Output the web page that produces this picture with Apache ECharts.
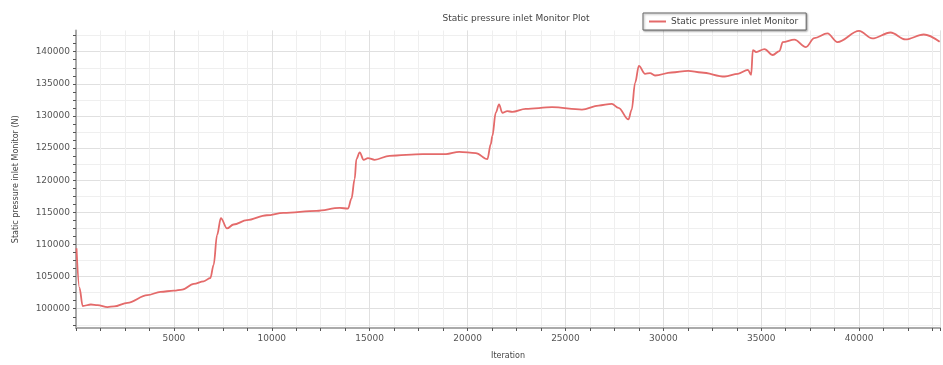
<!DOCTYPE html>
<html>
<head>
<meta charset="utf-8">
<script src="https://cdn.jsdelivr.net/npm/echarts@6/dist/echarts.min.js"></script>
<style>
html,body{margin:0;padding:0;background:#fff;}
#c{width:943px;height:365px;}
</style>
</head>
<body>
<div id="c"></div>
<script>
// Data
var iterations = [25, 178, 341, 763, 1103, 1612, 1947, 2628, 3645, 4321, 4998, 5425, 6014, 6523, 6863, 7031, 7204, 7400, 7712, 8048, 8729, 9746, 10590, 12288, 13473, 13895, 14068, 14235, 14321, 14489, 14693, 14912, 15252, 16015, 17708, 18898, 19573, 20422, 21012, 21185, 21266, 21439, 21607, 21775, 22029, 22283, 22964, 24317, 25842, 26691, 27367, 27708, 28216, 28384, 28557, 28750, 29066, 29320, 29574, 30418, 31262, 31943, 33133, 33809, 34317, 34485, 34571, 34739, 35166, 35588, 35929, 36097, 36692, 37282, 37709, 38384, 38893, 39996, 40672, 41603, 42365, 43301, 44114];
var pressure = [109400, 103240, 100420, 100660, 100570, 100260, 100360, 100920, 102110, 102620, 102820, 102980, 103860, 104270, 104780, 106830, 111460, 114100, 112490, 113110, 113780, 114550, 114920, 115230, 115690, 115580, 117120, 120210, 123290, 124330, 123180, 123450, 123180, 123800, 124060, 124060, 124420, 124220, 123290, 125610, 126890, 130500, 131780, 130500, 130740, 130650, 131110, 131360, 131000, 131620, 131880, 131270, 129460, 131000, 135170, 137790, 136560, 136660, 136300, 136760, 137020, 136760, 136140, 136560, 137170, 136400, 140260, 139950, 140410, 139490, 140100, 141490, 141880, 140720, 142110, 142840, 141490, 143240, 142060, 142990, 141910, 142680, 141540];
var yTickLabels = [100000, 105000, 110000, 115000, 120000, 125000, 130000, 135000, 140000];
var xTickLabels = [5000, 10000, 15000, 20000, 25000, 30000, 35000, 40000];
var seriesName = 'Static pressure inlet Monitor';

var X_MIN = 0, X_MAX = 44130, Y_MIN = 97000, Y_MAX = 143300;
function steps(start, end, step) { var a = []; for (var v = start; v <= end; v += step) a.push(v); return a; }
var yMinorTicks = steps(97500, 143000, 1250);
var yGrid2500 = steps(97500, 143000, 2500);

var font = 'DejaVu Sans';
var chart = echarts.init(document.getElementById('c'));
chart.setOption({
  animation: false,
  textStyle: { fontFamily: font },
  title: {
    text: 'Static pressure inlet Monitor Plot',
    left: 511, top: 9, textAlign: 'center',
    textStyle: { fontFamily: font, fontSize: 9, fontWeight: 'normal', color: '#444' }
  },
  legend: {
    left: 643, top: 13, padding: [4, 8, 4, 6],
    borderColor: '#666', borderWidth: 1, borderRadius: 0,
    backgroundColor: '#fff',
    shadowBlur: 2, shadowColor: 'rgba(0,0,0,0.35)', shadowOffsetX: 1, shadowOffsetY: 1,
    icon: 'rect', itemWidth: 17, itemHeight: 2, itemGap: 4,
    textStyle: { fontFamily: font, fontSize: 9, color: '#444' },
    data: [seriesName]
  },
  grid: { left: 76, right: 0, top: 30.5, bottom: 35, containLabel: false },
  xAxis: [{
    type: 'value', min: X_MIN, max: X_MAX, interval: 1250,
    name: 'Iteration', nameLocation: 'middle', nameGap: 24,
    nameTextStyle: { fontFamily: font, fontSize: 8, color: '#444' },
    axisLine: { lineStyle: { color: '#aaa', width: 2 } },
    axisTick: { length: 3, lineStyle: { color: '#555', width: 1 } },
    axisLabel: {
      margin: 6, fontSize: 9, color: '#555', fontFamily: font,
      formatter: function (v) { return xTickLabels.indexOf(v) >= 0 ? String(v) : ''; }
    },
    splitLine: { show: true, lineStyle: { color: '#efefef', width: 1 } }
  }, {
    type: 'value', min: X_MIN, max: X_MAX, interval: 5000, position: 'top',
    axisLine: { show: false }, axisTick: { show: false }, axisLabel: { show: false },
    splitLine: { show: true, lineStyle: { color: '#e0e0e0', width: 1 } }
  }],
  yAxis: [{
    type: 'value', min: Y_MIN, max: Y_MAX,
    name: 'Static pressure inlet Monitor (N)', nameLocation: 'middle', nameGap: 56,
    nameTextStyle: { fontFamily: font, fontSize: 8, color: '#444' },
    axisLine: { show: true, lineStyle: { color: '#aaa', width: 2 } },
    axisTick: { show: true, length: 3, customValues: yMinorTicks, lineStyle: { color: '#555', width: 1 } },
    axisLabel: {
      margin: 6, fontSize: 9, color: '#555', fontFamily: font, customValues: yTickLabels,
      formatter: function (v) { return String(v); }
    },
    splitLine: { show: false }
  }, {
    type: 'value', min: Y_MIN, max: Y_MAX, position: 'left',
    axisLine: { show: false }, axisLabel: { show: false },
    axisTick: { show: false, customValues: yGrid2500 },
    splitLine: { show: true, lineStyle: { color: '#efefef', width: 1 } }
  }, {
    type: 'value', min: Y_MIN, max: Y_MAX, position: 'right',
    axisLine: { show: false }, axisLabel: { show: false },
    axisTick: { show: false, customValues: yTickLabels },
    splitLine: { show: true, lineStyle: { color: '#e0e0e0', width: 1 } }
  }],
  series: [{
    name: seriesName, type: 'line', xAxisIndex: 0, yAxisIndex: 0,
    data: iterations.map(function (it, i) { return [it, pressure[i]]; }),
    showSymbol: false, smooth: 0.35, smoothMonotone: 'x',
    lineStyle: { color: '#e46a6a', width: 1.8 },
    itemStyle: { color: '#e46a6a' },
    z: 5
  }]
});
</script>
</body>
</html>
